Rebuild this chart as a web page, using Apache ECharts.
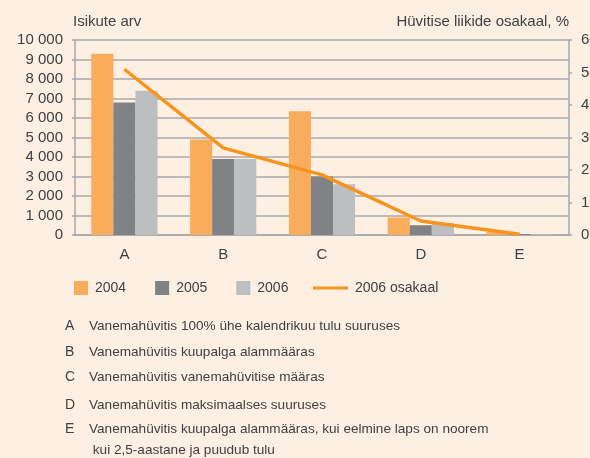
<!DOCTYPE html>
<html>
<head>
<meta charset="utf-8">
<script src="https://cdn.jsdelivr.net/npm/echarts@6/dist/echarts.min.js"></script>
<style>
  html, body { margin: 0; padding: 0; background: #fdf0e2; }
  #chart { width: 590px; height: 458px; }
</style>
</head>
<body>
<div id="chart"></div>
<script>
// andmed
var categories = ['A', 'B', 'C', 'D', 'E'];
var y2004 = [9300, 4900, 6350, 900, 150];
var y2005 = [6800, 3900, 3000, 500, 50];
var y2006 = [7400, 3900, 2600, 600, 30];
var osakaal2006 = [51, 26.8, 18.5, 4.3, 0.2];
var leftTicks = [0, 10000, 1000];
var rightTicks = [0, 60, 10];

var notes = [
    ['A', 'Vanemahüvitis 100% ühe kalendrikuu tulu suuruses', 327],
    ['B', 'Vanemahüvitis kuupalga alammääras', 353],
    ['C', 'Vanemahüvitis vanemahüvitise määras', 378],
    ['D', 'Vanemahüvitis maksimaalses suuruses', 406],
    ['E', 'Vanemahüvitis kuupalga alammääras, kui eelmine laps on noorem', 430],
    ['', ' kui 2,5-aastane ja puudub tulu', 451]
];

var font = '"Liberation Sans", Arial, sans-serif';
var txtColor = '#414042';
var gridColor = '#a7a9ac';

function noteGraphic(n) {
    let list = [];
    if (n[0]) {
        list.push({
            type: 'text', left: 65, top: n[2] - 8,
            style: { text: n[0], font: '14px ' + font, fill: txtColor }
        });
    }
    list.push({
        type: 'text', left: 89, top: n[2] - 8,
        style: { text: n[1], font: '13.6px ' + font, fill: txtColor }
    });
    return list;
}

var graList = [];
notes.forEach(n => {
    graList = graList.concat(noteGraphic(n));
});

var myChart = echarts.init(document.getElementById('chart'));

function bar(name, data, color) {
    return {
        name: name,
        type: 'bar',
        data: data,
        barGap: '0%',
        barCategoryGap: '33%',
        itemStyle: { color: color }
    };
}

var option = {
    backgroundColor: '#fdf0e2',
    animation: false,
    textStyle: { fontFamily: font },
    grid: { left: 75, right: 21, top: 40, bottom: 223, outerBoundsMode: 'none', containLabel: false },
    legend: [
        {
            data: ['2004', '2005', '2006'],
            left: 69, top: 276,
            itemWidth: 14, itemHeight: 14, itemGap: 29,
            icon: 'rect',
            textStyle: { fontSize: 14, color: txtColor, padding: [0, 0, 0, 2] }
        },
        {
            data: ['2006 osakaal'],
            left: 308, top: 276,
            itemWidth: 35, itemHeight: 3,
            icon: 'rect',
            textStyle: { fontSize: 14, color: txtColor, padding: [0, 0, 0, 2] }
        }
    ],
    graphic: [
        {
            type: 'text', left: 73, top: 14,
            style: { text: 'Isikute arv', font: '15px ' + font, fill: txtColor }
        },
        {
            type: 'text', right: 21, top: 14,
            style: { text: 'Hüvitise liikide osakaal, %', font: '15px ' + font, fill: txtColor }
        }
    ].concat(graList),
    xAxis: {
        type: 'category',
        data: categories,
        axisLine: { lineStyle: { color: gridColor, width: 1.5 } },
        axisTick: { length: 6, lineStyle: { color: gridColor, width: 1.5 } },
        axisLabel: { fontSize: 15, color: txtColor, margin: 12 }
    },
    yAxis: [
        {
            type: 'value',
            min: leftTicks[0], max: leftTicks[1], interval: leftTicks[2],
            axisLine: { show: true, lineStyle: { color: gridColor, width: 1.5 } },
            axisTick: { show: true, length: 3, lineStyle: { color: gridColor, width: 1.5 } },
            splitLine: { lineStyle: { color: gridColor, width: 1.5 } },
            axisLabel: {
                fontSize: 15, color: txtColor, margin: 12,
                formatter: v => String(v).replace(/\B(?=(\d{3})+(?!\d))/g, ' ')
            }
        },
        {
            type: 'value',
            min: rightTicks[0], max: rightTicks[1], interval: rightTicks[2],
            axisLine: { show: true, lineStyle: { color: gridColor, width: 1.5 } },
            axisTick: { show: true, length: 3, lineStyle: { color: gridColor, width: 1.5 } },
            splitLine: { show: false },
            axisLabel: { fontSize: 15, color: txtColor, margin: 12 }
        }
    ],
    series: [
        bar('2004', y2004, '#f9ac5c'),
        bar('2005', y2005, '#818285'),
        bar('2006', y2006, '#bcbec0'),
        {
            name: '2006 osakaal',
            type: 'line',
            yAxisIndex: 1,
            data: osakaal2006,
            symbol: 'none',
            itemStyle: { color: '#f7941d' },
            lineStyle: { color: '#f7941d', width: 3.5 }
        }
    ]
};

myChart.setOption(option);
</script>
</body>
</html>
